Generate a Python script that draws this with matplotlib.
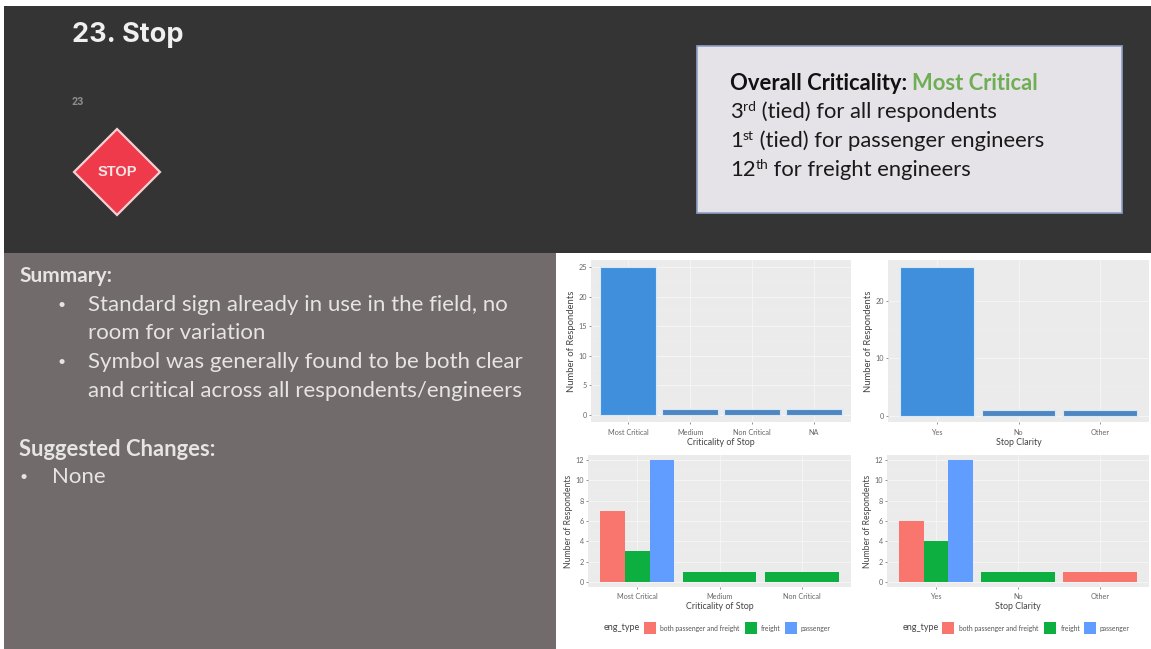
import matplotlib
matplotlib.use("Agg")
import matplotlib.pyplot as plt
from matplotlib.patches import Rectangle, Polygon
import numpy as np

W, H = 1151, 649

# values
crit_labels = ["Most Critical", "Medium", "Non Critical", "NA"]
crit_counts = [25, 1, 1, 1]
clarity_labels = ["Yes", "No", "Other"]
clarity_counts = [26, 1, 1]

crit_type_labels = ["Most Critical", "Medium", "Non Critical"]
crit_both = [7, 0, 0]
crit_freight = [3, 1, 1]
crit_passenger = [12, 0, 0]

clarity_both = [6, 0, 1]
clarity_freight = [4, 1, 0]
clarity_passenger = [12, 0, 0]

eng_types = ["both passenger and freight", "freight", "passenger"]
eng_colors = ["#F8766D", "#0DB040", "#619CFF"]

summary_lines = ["Standard sign already in use in the field, no", "room for variation",
                 "Symbol was generally found to be both clear", "and critical across all respondents/engineers"]

plt.rcParams["font.family"] = ["Lato", "DejaVu Sans"]
fig = plt.figure(figsize=(W / 100, H / 100), dpi=100, facecolor="white")

# slide background, in pixel coordinates
bg = fig.add_axes([0, 0, 1, 1])
bg.set_xlim(0, W)
bg.set_ylim(H, 0)
bg.axis("off")
bg.add_patch(Rectangle((4, 6), W - 4, 247, fc="#343434", ec="none"))
bg.add_patch(Rectangle((4, 253), 552, H - 253, fc="#716B6B", ec="none"))

bg.text(72, 35, "23. Stop", color="#F0F0F0", fontsize=19.5, fontweight="bold",
        family=["Inter", "DejaVu Sans"], va="center")
bg.text(72, 102, "23", color="#8E8E8E", fontsize=7, fontweight="bold",
        family=["Inter", "DejaVu Sans"], va="center")
bg.add_patch(Polygon([(117, 129), (160, 172), (117, 215), (74, 172)], fc="#EE3A4B", ec="#F6D0D2", lw=1.6))
bg.text(117, 172, "STOP", color="#F5E6E6", fontsize=10.5, fontweight="bold",
        family=["Liberation Sans"], ha="center", va="center")

# info box
box_size = 15.8
bg.add_patch(Rectangle((697, 46), 425, 167, fc="#E5E3E7", ec="#8FA0C8", lw=1.2))
t = bg.text(730, 84, "Overall Criticality: ", color="#111111", fontsize=box_size, fontweight="bold", va="center")
fig.canvas.draw()
x_end = bg.transData.inverted().transform(t.get_window_extent().corners())[:, 0].max()
bg.text(x_end, 84, "Most Critical", color="#6FAE55", fontsize=box_size, fontweight="bold", va="center")
for y, nth, sup, rest in [(112, "3", "rd", " (tied) for all respondents"),
                          (141, "1", "st", " (tied) for passenger engineers"),
                          (170, "12", "th", " for freight engineers")]:
    a = bg.text(730, y, nth, color="#1A1A1A", fontsize=box_size, va="center")
    fig.canvas.draw()
    x1 = bg.transData.inverted().transform(a.get_window_extent().corners())[:, 0].max()
    b = bg.text(x1, y - 5, sup, color="#1A1A1A", fontsize=10, va="center")
    fig.canvas.draw()
    x2 = bg.transData.inverted().transform(b.get_window_extent().corners())[:, 0].max()
    bg.text(x2, y, rest, color="#1A1A1A", fontsize=box_size, va="center")

# left summary text
text_col = "#E6E4E4"
bg.text(19, 276, "Summary:", color=text_col, fontsize=15, fontweight="bold", va="center")
for y, line in zip([305, 333, 362, 391], summary_lines):
    bg.text(88, y, line, color=text_col, fontsize=16, va="center")
bg.text(62, 305, "\u2022", color=text_col, fontsize=10, ha="center", va="center")
bg.text(62, 362, "\u2022", color=text_col, fontsize=10, ha="center", va="center")
bg.text(19, 449, "Suggested Changes:", color=text_col, fontsize=15.8, fontweight="bold", va="center")
bg.text(24, 477, "\u2022", color=text_col, fontsize=10, ha="center", va="center")
bg.text(52, 477, "None", color=text_col, fontsize=16, va="center")


def panel(x0, x1, y0, y1, pad):
    ax = fig.add_axes([x0 / W, 1 - y1 / H, (x1 - x0) / W, (y1 - y0) / H])
    ax.set_facecolor("#EBEBEB")
    ax.set_axisbelow(True)
    ax.grid(True, which="major", color="#F5F5F5", lw=0.7)
    ax.grid(True, which="minor", axis="y", color="#F0F0F0", lw=0.35)
    for s in ax.spines.values():
        s.set_visible(False)
    ax.tick_params(axis="both", which="major", labelsize=5.2, colors="#666666", length=1.5, width=0.5, pad=1.5)
    ax.tick_params(axis="x", which="major", pad=pad)
    ax.tick_params(axis="both", which="minor", length=0)
    return ax


def finish(ax, labels, xlabel, ylim, yticks, ylab_size):
    ax.set_xlim(0.4, len(labels) + 0.6)
    ax.set_ylim(*ylim)
    ax.set_xticks(np.arange(1, len(labels) + 1))
    ax.set_xticklabels(labels)
    ax.set_yticks(yticks)
    ax.set_yticks((np.array(yticks[:-1]) + np.array(yticks[1:])) / 2, minor=True)
    ax.set_xlabel(xlabel, fontsize=6.4, color="#444444", labelpad=1.2)
    ax.set_ylabel("Number of Respondents", fontsize=ylab_size, color="#444444", labelpad=2)


def dodged(ax, both, freight, passenger):
    for i, vals in enumerate(zip(both, freight, passenger)):
        present = [(c, v) for c, v in zip(eng_colors, vals) if v > 0]
        w = 0.9 / len(present)
        left = i + 1 - 0.45
        for j, (c, v) in enumerate(present):
            ax.bar(left + j * w, v, width=w, align="edge", color=c, ec="none")


def legend(label_x, keys, text_x):
    bg.text(label_x, 628, "eng_type", fontsize=6.5, color="#444444", va="center")
    for kx, tx, c, name in zip(keys, text_x, eng_colors, eng_types):
        bg.add_patch(Rectangle((kx, 622), 12.5, 12, fc=c, ec="none"))
        bg.text(tx, 628, name, fontsize=4.9, color="#555555", va="center")


def single_colors(counts):
    # the tall bar reads lighter than the short ones in the picture
    return ["#3F8FDC" if c > 1 else "#4F86C0" for c in counts]


# top left
ax = panel(591, 851, 260, 422, 3.5)
ax.bar(range(1, 5), crit_counts, width=0.9, color=single_colors(crit_counts), ec="#D6E9F8", lw=0.8)
finish(ax, crit_labels, "Criticality of Stop", (-1.2, 26.2), [0, 5, 10, 15, 20, 25], 6.8)

# top right
ax = panel(888, 1149, 260, 422, 3.5)
ax.bar(range(1, 4), clarity_counts, width=0.9, color=single_colors(clarity_counts), ec="#D6E9F8", lw=0.8)
finish(ax, clarity_labels, "Stop Clarity", (-1.1, 27.2), [0, 10, 20], 6.8)

# bottom left
ax = panel(588, 851, 455, 587, 3)
dodged(ax, crit_both, crit_freight, crit_passenger)
finish(ax, crit_type_labels, "Criticality of Stop", (-0.5, 12.5), [0, 2, 4, 6, 8, 10, 12], 6.2)
legend(604, [644, 745, 785], [660, 761, 801])

# bottom right
ax = panel(887, 1149, 455, 587, 3)
dodged(ax, clarity_both, clarity_freight, clarity_passenger)
finish(ax, clarity_labels, "Stop Clarity", (-0.5, 12.5), [0, 2, 4, 6, 8, 10, 12], 6.2)
legend(903, [942, 1044, 1084], [959, 1061, 1100])

fig.savefig("out.png", dpi=100)
